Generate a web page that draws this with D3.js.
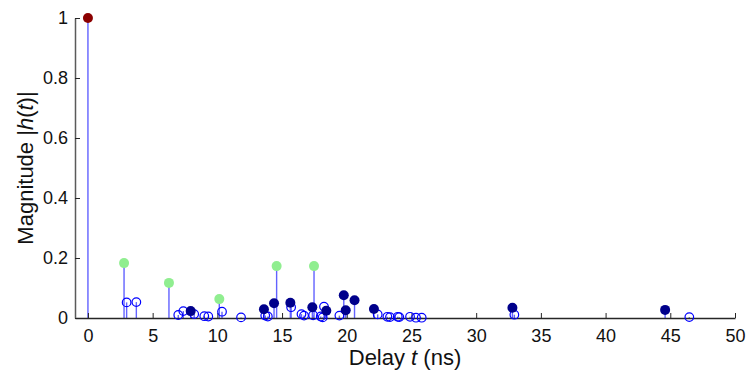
<!DOCTYPE html>
<html>
<head>
<meta charset="utf-8">
<script src="https://cdn.jsdelivr.net/npm/d3@7"></script>
<style>
  body { margin: 0; background: #fff; }
  text { font-family: "Liberation Sans", Arial, sans-serif; }
</style>
</head>
<body>
<div id="chart"></div>
<script>
// delays (ns) and magnitudes, by path group
var losDelay = [0];
var losMag = [1];

var greenDelay = [2.79, 6.26, 10.15, 14.58, 17.47];
var greenMag = [0.183, 0.117, 0.063, 0.173, 0.173];

var navyDelay = [7.94, 13.6, 14.38, 15.64, 17.34, 18.42, 19.77, 19.92, 20.6, 22.1, 32.8, 44.6];
var navyMag = [0.023, 0.029, 0.049, 0.051, 0.036, 0.024, 0.076, 0.026, 0.059, 0.030, 0.034, 0.027];

var openDelay = [2.99, 3.74, 6.98, 7.37, 8.21, 8.99, 9.3, 10.36, 11.83, 13.7, 13.9, 15.7, 16.5, 16.7,
  17.4, 17.99, 18.14, 18.24, 19.43, 22.39, 23.14, 23.34, 23.94, 24.06, 24.89, 25.35, 25.79, 32.95, 46.47];
var openMag = [0.052, 0.053, 0.010, 0.023, 0.013, 0.006, 0.005, 0.021, 0.002, 0.008, 0.005, 0.036, 0.013, 0.008,
  0.009, 0.005, 0.002, 0.038, 0.008, 0.012, 0.004, 0.003, 0.004, 0.003, 0.004, 0.001, 0.001, 0.011, 0.003];

var xTicks = [0, 5, 10, 15, 20, 25, 30, 35, 40, 45, 50];
var yTicks = [0, 0.2, 0.4, 0.6, 0.8, 1];

var zip = function(a, b) { return a.map(function(d, i) { return {t: d, v: b[i]}; }); };
var los = zip(losDelay, losMag),
    green = zip(greenDelay, greenMag),
    navy = zip(navyDelay, navyMag),
    open = zip(openDelay, openMag);

var margin = {left: 75, right: 12, top: 18, bottom: 54};
var width = 747 - margin.left - margin.right;
var height = 372 - margin.top - margin.bottom;

var svg = d3.select("#chart").append("svg")
    .attr("width", 747)
    .attr("height", 372)
  .append("g")
    .attr("transform", "translate(" + margin.left + "," + margin.top + ")");

var x = d3.scaleLinear().domain([-1, 50]).range([0, width]);
var y = d3.scaleLinear().domain([0, 1]).range([height, 0]);

// stems
var all = open.concat(navy, green, los);
svg.selectAll(".stem").data(all).enter().append("line")
    .attr("class", "stem")
    .attr("x1", d => x(d.t)).attr("x2", d => x(d.t))
    .attr("y1", y(0)).attr("y2", d => y(d.v))
    .attr("stroke", "#6262ff")
    .attr("stroke-width", 1.4);

// axes (ticks inward)
var xAxis = svg.append("g")
    .attr("transform", "translate(0," + height + ")")
    .call(d3.axisBottom(x).tickValues(xTicks).tickSizeInner(-5).tickSizeOuter(0).tickPadding(11));
var yAxis = svg.append("g")
    .call(d3.axisLeft(y).tickValues(yTicks).tickSizeInner(-5).tickSizeOuter(0).tickPadding(7)
      .tickFormat(d3.format("")));

xAxis.select(".domain").attr("stroke", "#262626").attr("stroke-width", 1.5);
yAxis.select(".domain").attr("stroke", "#5a5a5a").attr("stroke-width", 1.5);
[xAxis, yAxis].forEach(function(a) {
  a.selectAll(".tick line").attr("stroke", "#262626").attr("stroke-width", 1);
  a.selectAll(".tick text").attr("font-size", 18).attr("fill", "#111")
    .style("font-family", "'Liberation Sans', Arial, sans-serif");
});

// markers
svg.selectAll(".open").data(open).enter().append("circle")
    .attr("class", "open")
    .attr("cx", d => x(d.t)).attr("cy", d => y(d.v)).attr("r", 4.3)
    .attr("fill", "none").attr("stroke", "#0000ff").attr("stroke-width", 1.2);

svg.selectAll(".navy").data(navy).enter().append("circle")
    .attr("class", "navy")
    .attr("cx", d => x(d.t)).attr("cy", d => y(d.v)).attr("r", 5)
    .attr("fill", "#00008b");

svg.selectAll(".green").data(green).enter().append("circle")
    .attr("class", "green")
    .attr("cx", d => x(d.t)).attr("cy", d => y(d.v)).attr("r", 5)
    .attr("fill", "#90ee90");

svg.selectAll(".los").data(los).enter().append("circle")
    .attr("class", "los")
    .attr("cx", d => x(d.t)).attr("cy", d => y(d.v)).attr("r", 5)
    .attr("fill", "#8b0000");

// axis labels
var xl = svg.append("text")
    .attr("x", width / 2).attr("y", height + 47)
    .attr("text-anchor", "middle").attr("font-size", 22).attr("fill", "#111");
xl.append("tspan").text("Delay ");
xl.append("tspan").attr("font-style", "italic").text("t");
xl.append("tspan").text(" (ns)");

var yl = svg.append("text")
    .attr("transform", "translate(-42," + (height / 2) + ") rotate(-90)")
    .attr("text-anchor", "middle").attr("font-size", 22).attr("fill", "#111");
yl.append("tspan").text("Magnitude |");
yl.append("tspan").attr("font-style", "italic").text("h");
yl.append("tspan").text("(");
yl.append("tspan").attr("font-style", "italic").text("t");
yl.append("tspan").text(")|");
</script>
</body>
</html>
